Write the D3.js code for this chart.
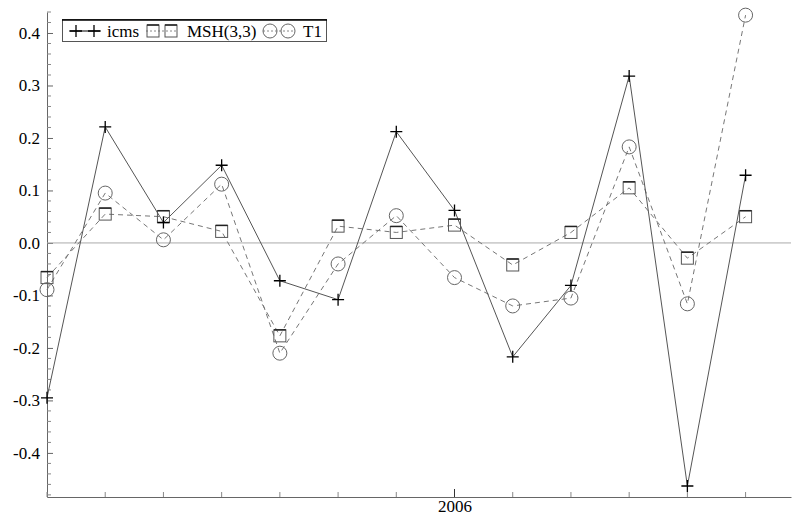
<!DOCTYPE html>
<html>
<head>
<meta charset="utf-8">
<script src="https://cdn.jsdelivr.net/npm/d3@7"></script>
<style>
  body { margin: 0; background: #fff; }
</style>
</head>
<body>
<svg></svg>
<script>
var width = 794;
var height = 518;
var serif = "Liberation Serif";

// quarters, index 0..12 ; the 2006 tick sits on index 7
var periods = d3.range(13);
var yearTicks = [7];
var yearLabels = ["2006"];

var icms = [-0.295, 0.221, 0.039, 0.148, -0.072, -0.108, 0.212, 0.062, -0.217, -0.081, 0.318, -0.463, 0.129];
var msh = [-0.066, 0.055, 0.050, 0.022, -0.177, 0.032, 0.020, 0.034, -0.042, 0.020, 0.105, -0.029, 0.050];
var t1 = [-0.089, 0.095, 0.006, 0.112, -0.210, -0.040, 0.052, -0.066, -0.120, -0.105, 0.183, -0.116, 0.434];

var yTicks = [-0.4, -0.3, -0.2, -0.1, 0.0, 0.1, 0.2, 0.3, 0.4];
var seriesNames = ["icms", "MSH(3,3)", "T1"];

var svg = d3.select("svg")
            .attr("width", width)
            .attr("height", height)

var x = d3.scaleLinear().domain([0, 12.78]).range([47, 791]);
var y = d3.scaleLinear().domain([-0.484, 0.44]).range([497, 12]);

var fmt = d3.format(".1f");

// y axis
var yAxis = d3.axisLeft(y)
    .tickValues(yTicks)
    .tickSize(6)
    .tickSizeOuter(0)
    .tickFormat(function(d) { return fmt(d).replace("\u2212", "-"); });
var ya = svg.append("g").attr("transform", "translate(47,0)").call(yAxis);
ya.select(".domain").attr("stroke", "#666");
ya.selectAll(".tick line").attr("stroke", "#666").attr("x2", 6).attr("x1", 0);
ya.selectAll(".tick text").attr("x", -7).attr("fill", "#000")
    .style("font-family", serif).style("font-size", "17px");

// minor y ticks every 0.02
var minor = d3.range(-24, 23).map(function(k) { return k * 0.02; })
    .filter(function(v) { return Math.abs(Math.round(v * 10) - v * 10) > 0.01; });
svg.append("g").selectAll("line").data(minor).join("line")
    .attr("x1", 47).attr("x2", 51)
    .attr("y1", function(d) { return y(d); })
    .attr("y2", function(d) { return y(d); })
    .attr("stroke", "#888");

// x axis
var xAxis = d3.axisBottom(x)
    .tickValues(yearTicks)
    .tickSize(0)
    .tickSizeOuter(0)
    .tickFormat(function(d, i) { return yearLabels[i]; });
var xa = svg.append("g").attr("transform", "translate(0,497)").call(xAxis);
xa.select(".domain").attr("stroke", "#666");
xa.selectAll(".tick text").attr("y", 3).attr("fill", "#000")
    .style("font-family", serif).style("font-size", "17px");
// ticks pointing up from the axis
svg.append("g").selectAll("line").data(periods).join("line")
    .attr("x1", function(d) { return x(d); })
    .attr("x2", function(d) { return x(d); })
    .attr("y1", 497)
    .attr("y2", function(d) { return yearTicks.indexOf(d) >= 0 ? 489 : 492; })
    .attr("stroke", function(d) { return yearTicks.indexOf(d) >= 0 ? "#333" : "#888"; });

// zero line
svg.append("line")
    .attr("x1", 47).attr("x2", 791)
    .attr("y1", y(0)).attr("y2", y(0))
    .attr("stroke", "#aaa").attr("stroke-width", 1);

var line = d3.line()
    .x(function(d, i) { return x(i); })
    .y(function(d) { return y(d); });

svg.append("path").attr("d", line(msh))
    .attr("fill", "none").attr("stroke", "#777").attr("stroke-dasharray", "5,4");
svg.append("path").attr("d", line(t1))
    .attr("fill", "none").attr("stroke", "#777").attr("stroke-dasharray", "5,4");
svg.append("path").attr("d", line(icms))
    .attr("fill", "none").attr("stroke", "#555");

function cross(g, cx, cy) {
    g.append("path")
        .attr("d", "M" + (cx - 6) + "," + cy + "H" + (cx + 6) + "M" + cx + "," + (cy - 6) + "V" + (cy + 6))
        .attr("stroke", "#000").attr("stroke-width", 1.3);
}
function square(g, cx, cy) {
    g.append("rect")
        .attr("x", cx - 6).attr("y", cy - 6).attr("width", 12).attr("height", 12)
        .attr("fill", "none").attr("stroke", "#555");
    g.append("line")
        .attr("x1", cx - 6).attr("x2", cx + 6).attr("y1", cy - 6).attr("y2", cy - 6)
        .attr("stroke", "#222").attr("stroke-width", 1.5);
}
function circle(g, cx, cy) {
    g.append("circle")
        .attr("cx", cx).attr("cy", cy).attr("r", 7)
        .attr("fill", "none").attr("stroke", "#666");
}

var marks = svg.append("g");
msh.forEach(function(d, i) { square(marks, x(i), y(d)); });
t1.forEach(function(d, i) { circle(marks, x(i), y(d)); });
icms.forEach(function(d, i) { cross(marks, x(i), y(d)); });

// legend
var lg = svg.append("g");
lg.append("rect").attr("x", 62.5).attr("y", 19.5).attr("width", 264).attr("height", 22)
    .attr("fill", "#fff").attr("stroke", "#555");
lg.append("line").attr("x1", 62).attr("x2", 327).attr("y1", 20).attr("y2", 20)
    .attr("stroke", "#000").attr("stroke-width", 1.5);
var ly = 31;
var items = [
    { x0: 76, x1: 94, tx: 107, draw: cross, dash: null, stroke: "#000" },
    { x0: 153, x1: 171, tx: 187, draw: square, dash: "2,2", stroke: "#888" },
    { x0: 270, x1: 288, tx: 303, draw: circle, dash: "2,2", stroke: "#888" }
];
items.forEach(function(it, i) {
    lg.append("line").attr("x1", it.x0 - 7).attr("x2", it.x1 + 7).attr("y1", ly).attr("y2", ly)
        .attr("stroke", it.stroke).attr("stroke-dasharray", it.dash);
    it.draw(lg, it.x0, ly);
    it.draw(lg, it.x1, ly);
    lg.append("text").attr("x", it.tx).attr("y", ly + 5.5)
        .style("font-family", serif).style("font-size", "17px").text(seriesNames[i]);
});
</script>
</body>
</html>
